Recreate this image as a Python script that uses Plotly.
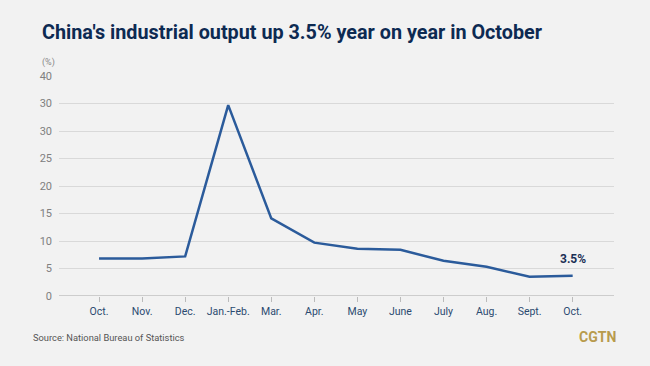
import plotly.graph_objects as go

months = ["Oct.", "Nov.", "Dec.", "Jan.-Feb.", "Mar.", "Apr.", "May", "June", "July", "Aug.", "Sept.", "Oct."]
growth = [6.8, 6.8, 7.2, 34.7, 14.1, 9.7, 8.6, 8.4, 6.4, 5.3, 3.5, 3.7]
y_tick_vals = [0, 5, 10, 15, 20, 25, 30, 35, 40]
y_tick_text = ["0", "5", "10", "15", "20", "25", "30", "30", "40"]
last_label = "3.5%"

idx = list(range(len(months)))

fig = go.Figure()
fig.add_trace(go.Scatter(
    x=idx, y=growth, mode="lines",
    line=dict(color="#2b5b9b", width=2.5),
    hoverinfo="skip", showlegend=False,
))

fig.add_annotation(x=idx[-1], y=growth[-1], text="<b>" + last_label + "</b>",
                   showarrow=False, yshift=17, xshift=0,
                   font=dict(family="Roboto", size=12, color="#1a2f55"))

fig.update_layout(
    width=650, height=366,
    paper_bgcolor="#f2f2f2", plot_bgcolor="#f2f2f2",
    margin=dict(l=59, r=36, t=76, b=70),
    font=dict(family="Roboto"),
    xaxis=dict(
        range=[-0.93, 11.96], tickmode="array", tickvals=idx, ticktext=months,
        showgrid=False, zeroline=False, showline=False,
        ticks="outside", ticklen=5, tickcolor="#bbbbbb", tickwidth=1,
        tickfont=dict(family="Roboto", size=10.5, color="#2b4a70"),
        fixedrange=True,
    ),
    yaxis=dict(
        range=[0, 40], tickmode="array", tickvals=y_tick_vals, ticktext=y_tick_text,
        showgrid=True, gridcolor="#d9d9d9", gridwidth=1,
        zeroline=False, showline=False,
        tickfont=dict(family="Roboto", size=11, color="#808080"),
        ticks="", ticklabelstandoff=6,
        fixedrange=True,
    ),
    shapes=[dict(type="line", xref="paper", yref="y", x0=0, x1=1, y0=0, y1=0,
                 line=dict(color="#a8a8a8", width=1.2), layer="above")],
    annotations=list(fig.layout.annotations) + [
        dict(text="<b>China's industrial output up 3.5% year on year in October</b>",
             xref="paper", yref="paper", x=-0.034, y=1.0, xanchor="left", yanchor="bottom",
             yshift=30, showarrow=False,
             font=dict(family="Roboto", size=19.8, color="#0d2a52")),
        dict(text="(%)", xref="paper", yref="paper", x=-0.034, y=1.0, xanchor="left", yanchor="bottom",
             yshift=6, showarrow=False,
             font=dict(family="Roboto", size=9, color="#888888")),
        dict(text="Source: National Bureau of Statistics", xref="paper", yref="paper",
             x=-0.05, y=0, xanchor="left", yanchor="middle", yshift=-41, showarrow=False,
             font=dict(family="Roboto", size=9.3, color="#555555")),
        dict(text="<b>CGTN</b>", xref="paper", yref="paper",
             x=1.007, y=0, xanchor="right", yanchor="middle", yshift=-41, showarrow=False,
             font=dict(family="Roboto", size=14, color="#b89b4c")),
    ],
)

fig.write_html("out.html", config={"displayModeBar": False},
               post_script="document.body.style.margin='0';document.body.style.background='#f2f2f2';")
